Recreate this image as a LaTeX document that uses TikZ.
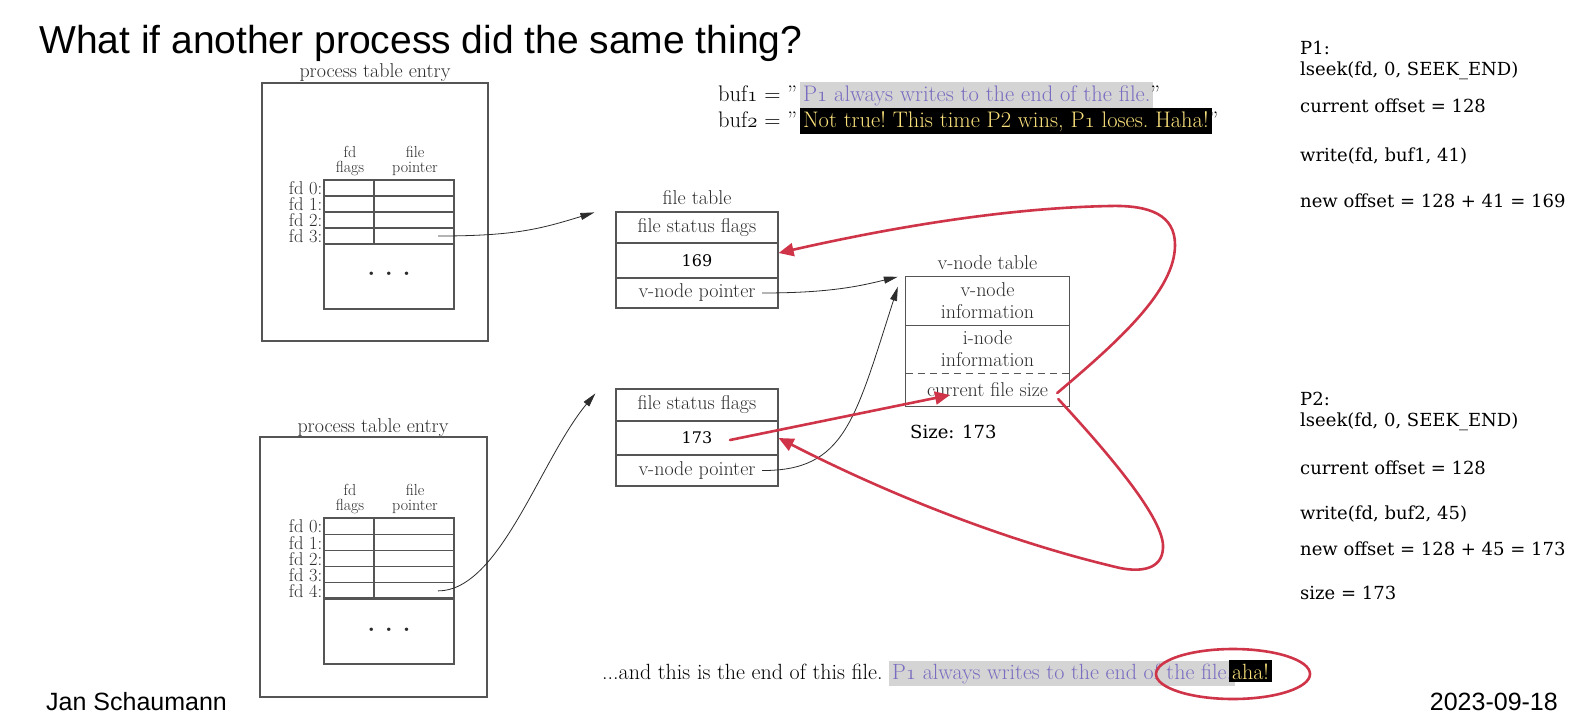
\documentclass[tikz,border=0pt]{standalone}
\usepackage{fontspec}
\usetikzlibrary{arrows.meta,shapes.geometric}
\newfontfamily\helvfont{Liberation Sans}
\newfontfamily\typewfont{DejaVu Serif}
\definecolor{inkgray}{HTML}{2C2C2C}
\definecolor{rulegray}{HTML}{555555}
\definecolor{alertred}{HTML}{CF3449}
\definecolor{hlgray}{HTML}{D4D4D4}
\definecolor{hlpurple}{HTML}{7A6CC0}
\definecolor{hlyellow}{HTML}{FBE27C}
% old-style figures taken from the math italic font
\newcommand\osn[1]{{\fontencoding{OML}\fontfamily{cmm}\fontseries{m}\fontshape{it}\selectfont #1}}
\newcommand\grayhl[1]{{\setlength\fboxsep{3pt}\colorbox{hlgray}{\textcolor{hlpurple}{#1}}}}
\newcommand\blackhl[1]{{\setlength\fboxsep{3pt}\colorbox{black}{\textcolor{hlyellow}{#1}}}}
\newcommand\bookfont[2]{\fontsize{#1}{#2}\selectfont\addfontfeature{FakeBold=0.4}}
\tikzset{
  cell/.style={draw=rulegray, line width=1.2pt, inner sep=0pt, text=inkgray,
    font=\bookfont{20}{22}},
  plain/.style={inner sep=0pt, text=inkgray, font=\bookfont{20}{22}},
  fdlabel/.style={inner sep=0pt, anchor=east, text=inkgray, font=\bookfont{18.5}{18}},
  colhead/.style={inner sep=0pt, align=center, text=inkgray, font=\bookfont{16}{15}},
  ptr/.style={draw=inkgray, line width=0.8pt, -{Triangle[length=14pt,width=7pt]}},
  redarrow/.style={draw=alertred, line width=2.6pt, line cap=round,
    -{Triangle[length=15pt,width=13pt]}},
  note/.style={inner sep=0pt, anchor=base west, font=\typewfont\fontsize{18}{20}\selectfont},
  slidetext/.style={inner sep=0pt, font=\frenchspacing\fontsize{22.5}{26}\selectfont},
  dotrow/.style={inner sep=0pt, text=inkgray, font=\bfseries\fontsize{24}{24}\selectfont},
}
\begin{document}
\begin{tikzpicture}[x=1pt,y=-1pt]
\useasboundingbox[fill=white] (0,0) rectangle (1594,726);

% heading and footer
\node[inner sep=0pt, anchor=base west, font=\helvfont\fontsize{39}{44}\selectfont] (title) at (39,53) {What if another process did the same thing?};
\node[inner sep=0pt, anchor=base west, font=\helvfont\fontsize{25}{28}\selectfont] (author) at (46,710) {Jan Schaumann};
\node[inner sep=0pt, anchor=base east, font=\helvfont\fontsize{25}{28}\selectfont] (date) at (1558,710) {2023-09-18};

% ---- process table entry, upper ----
\node[plain, anchor=base] (pt1title) at (375,77) {process table entry};
\node[cell, minimum width=226, minimum height=258] (pt1) at (375,212) {};
\node[colhead] (pt1hf) at (350,161) {fd\\flags};
\node[colhead] (pt1hp) at (415,161) {file\\pointer};
\foreach \i in {0,...,3} {
  \node[cell, minimum width=50, minimum height=16] (pt1-f\i) at (349,{188+16*\i}) {};
  \node[cell, minimum width=80, minimum height=16] (pt1-p\i) at (414,{188+16*\i}) {};
  \node[fdlabel] (pt1-l\i) at ([xshift=-1pt,yshift=-0.5pt]pt1-f\i.west) {fd \i:};
}
\node[cell, minimum width=130, minimum height=65] (pt1-rest) at (389,276.5) {};
\node[dotrow] (pt1-dots) at (389,274) {.\hspace{10pt}.\hspace{10pt}.};

% ---- process table entry, lower ----
\node[plain, anchor=base] (pt2title) at (373,432) {process table entry};
\node[cell, minimum width=227, minimum height=260] (pt2) at (373.5,567) {};
\node[colhead] (pt2hf) at (350,499) {fd\\flags};
\node[colhead] (pt2hp) at (415,499) {file\\pointer};
\foreach \i in {0,...,4} {
  \node[cell, minimum width=50, minimum height=16.2] (pt2-f\i) at (349,{526.1+16.2*\i}) {};
  \node[cell, minimum width=80, minimum height=16.2] (pt2-p\i) at (414,{526.1+16.2*\i}) {};
  \node[fdlabel] (pt2-l\i) at ([xshift=-1pt,yshift=-0.5pt]pt2-f\i.west) {fd \i:};
}
\node[cell, minimum width=130, minimum height=66] (pt2-rest) at (389,631) {};
\node[dotrow] (pt2-dots) at (389,630) {.\hspace{10pt}.\hspace{10pt}.};

% ---- file table, upper ----
\node[plain, anchor=base] (ft1title) at (697,204) {file table};
\node[cell, minimum width=162, minimum height=31] (ft1a) at (697,227.5) {file status flags};
\node[cell, fill=white, minimum width=162, minimum height=35, font=\typewfont\fontsize{16}{18}\selectfont, text=black] (ft1b) at (697,260.5) {169};
\node[cell, minimum width=162, minimum height=30] (ft1c) at (697,293) {v-node pointer};

% ---- file table, lower ----
\node[cell, minimum width=162, minimum height=32] (ft2a) at (697,405) {file status flags};
\node[cell, fill=white, minimum width=162, minimum height=34, font=\typewfont\fontsize{16}{18}\selectfont, text=black] (ft2b) at (697,438) {173};
\node[cell, minimum width=162, minimum height=31] (ft2c) at (697,470.5) {v-node pointer};

% ---- v-node table ----
\node[plain, anchor=base] (vntitle) at (987.5,269) {v-node table};
\node[plain, align=center, minimum width=163, minimum height=48] (vn1) at (987.5,301) {v-node\\information};
\node[plain, align=center, minimum width=163, minimum height=48] (vn2) at (987.5,349) {i-node\\information};
\node[plain, minimum width=163, minimum height=33] (vn3) at (987.5,389.5) {current file size};
\draw[draw=rulegray, line width=1.2pt] (vn1.north west) rectangle (vn3.south east);
\draw[draw=rulegray, line width=1.2pt] (vn1.south west) -- (vn1.south east);
\draw[draw=rulegray, line width=1.2pt, dash pattern=on 7pt off 5pt] (vn2.south west) -- (vn2.south east);
\node[inner sep=0pt, anchor=base west, font=\typewfont\fontsize{18}{20}\selectfont] (size) at (910,438) {Size: 173};

% ---- descriptor and v-node pointers ----
\draw[ptr] ([xshift=24pt]pt1-p3.center) .. controls (515,236) and (540,229) .. ([xshift=-21pt,yshift=-1pt]ft1a.north west);
\draw[ptr] ([xshift=65pt]ft1c.center) .. controls (830,293) and (860,286) .. ([xshift=-8pt]vn1.north west);
\draw[ptr] ([xshift=24pt]pt2-p4.center) .. controls (500,591) and (540,460) .. ([xshift=-20pt,yshift=-5pt]ft2a.north west);
\draw[ptr] ([xshift=65pt]ft2c.center) .. controls (845,471) and (855,420) .. ([xshift=-8pt,yshift=-10pt]vn1.north west);

% ---- buffers ----
\node[slidetext, anchor=base west] (buf1) at (718,101) {buf\osn{1} = "\hspace{3pt}\grayhl{P\osn{1} always writes to the end of the file.}\kern-3pt"};
\node[slidetext, anchor=base west] (buf2) at (718,127) {buf\osn{2} = "\hspace{3pt}\blackhl{Not true! This time P2 wins, P\osn{1} loses. Haha!}\kern-3pt"};

% ---- end of file ----
\node[slidetext, anchor=base west, font=\frenchspacing\fontsize{22}{26}\selectfont] (eof) at (602,679) {...and this is the end of this file. \grayhl{P\osn{1} always writes to the end of the file.}\kern-6pt\blackhl{aha!}};

% ---- process notes ----
\node[note] (p1a) at (1300,54.5) {P1:};
\node[note] (p1b) at (1300,75) {lseek(fd, 0, SEEK\_END)};
\node[note] (p1c) at (1300,112.5) {current offset = 128};
\node[note] (p1d) at (1300,161) {write(fd, buf1, 41)};
\node[note] (p1e) at (1300,207) {new offset = 128 + 41 = 169};
\node[note] (p2a) at (1300,405) {P2:};
\node[note] (p2b) at (1300,426) {lseek(fd, 0, SEEK\_END)};
\node[note] (p2c) at (1300,474) {current offset = 128};
\node[note] (p2d) at (1300,519) {write(fd, buf2, 45)};
\node[note] (p2e) at (1300,555) {new offset = 128 + 45 = 173};
\node[note] (p2f) at (1300,599) {size = 173};

% ---- red annotations ----
\draw[redarrow] ([xshift=-12pt,yshift=-3.5pt]vn3.east) .. controls (1120,340) and (1175,290) .. (1175,245)
  .. controls (1175,215) and (1150,205) .. (1110,206)
  .. controls (1000,208) and (880,230) .. ([yshift=7.5pt]ft1b.east);
\draw[redarrow] ([xshift=33pt,yshift=-2pt]ft2b.center) -- ([xshift=-37.5pt,yshift=-5.5pt]vn3.center);
\draw[redarrow] ([xshift=-11pt,yshift=-9.5pt]vn3.east) .. controls (1110,455) and (1165,520) .. (1163,548)
  .. controls (1162,570) and (1140,572) .. (1120,568)
  .. controls (1000,540) and (880,490) .. (ft2b.east);
\node[ellipse, draw=alertred, line width=2.6pt, minimum width=154, minimum height=50, inner sep=0pt] (ahaloop) at (1233,674) {};
\end{tikzpicture}
\end{document}
